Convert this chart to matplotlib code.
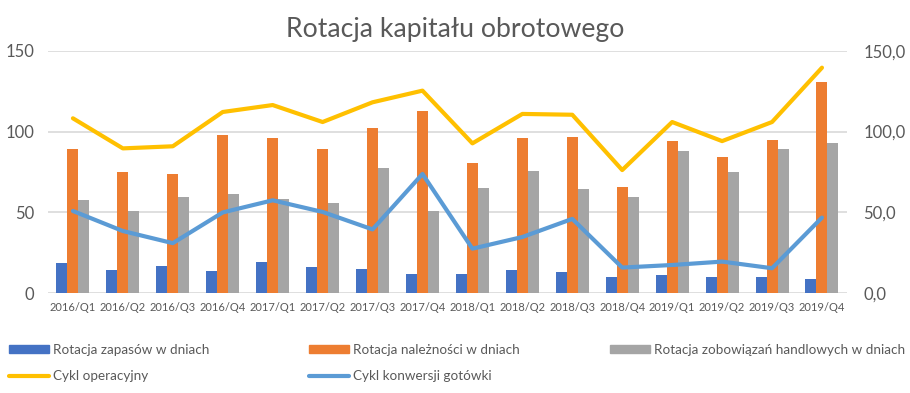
import matplotlib
matplotlib.use("Agg")
import matplotlib.pyplot as plt
import numpy as np
from matplotlib.lines import Line2D
from matplotlib.patches import Patch

plt.rcParams['font.family'] = ['Lato', 'DejaVu Sans']

categories = ["2016/Q1", "2016/Q2", "2016/Q3", "2016/Q4", "2017/Q1", "2017/Q2", "2017/Q3", "2017/Q4",
              "2018/Q1", "2018/Q2", "2018/Q3", "2018/Q4", "2019/Q1", "2019/Q2", "2019/Q3", "2019/Q4"]
zapasy = [18.8, 14.4, 16.9, 13.8, 19.4, 16.3, 15.0, 12.0, 12.0, 14.4, 13.2, 10.1, 11.3, 10.1, 10.1, 8.9]
naleznosci = [89.2, 75.0, 73.8, 97.9, 96.0, 89.2, 102.2, 112.7, 80.6, 96.0, 96.6, 65.7, 94.2, 84.3, 94.8, 130.6]
zobowiazania = [57.7, 50.9, 59.6, 61.4, 58.3, 55.8, 77.5, 50.9, 65.1, 75.6, 64.5, 59.6, 88.0, 75.0, 89.2, 92.9]
cykl_operacyjny = [108.2, 89.6, 90.9, 112.1, 116.4, 105.9, 118.1, 125.3, 92.7, 110.9, 110.4, 76.2, 105.9, 94.1, 105.9, 139.5]
cykl_konwersji = [50.9, 38.5, 31.0, 50.0, 57.5, 50.3, 39.5, 73.8, 27.6, 34.8, 46.0, 15.9, 17.5, 19.6, 15.5, 46.8]
left_ticks = [0, 50, 100, 150]
right_ticks = [0, 50, 100, 150]

c_blue = "#4472C4"
c_orange = "#ED7D31"
c_gray = "#A5A5A5"
c_yellow = "#FFC000"
c_lblue = "#5B9BD5"
txt = "#595959"

fig = plt.figure(figsize=(9.10, 3.93), dpi=100)
ax = fig.add_axes([0.0527, 0.2537, 0.878, 0.6173])
ax2 = ax.twinx()

x = np.arange(len(categories))
w = 0.22
ax.bar(x - w, zapasy, w, color=c_blue, zorder=2)
ax.bar(x, naleznosci, w, color=c_orange, zorder=2)
ax.bar(x + w, zobowiazania, w, color=c_gray, zorder=2)

ax2.plot(x, cykl_operacyjny, color=c_yellow, lw=3.0, solid_capstyle='round', solid_joinstyle='round', zorder=3)
ax2.plot(x, cykl_konwersji, color=c_lblue, lw=3.0, solid_capstyle='round', solid_joinstyle='round', zorder=3)

ax.set_xlim(-0.5, len(categories) - 0.5)
ax.set_ylim(0, 150)
ax2.set_ylim(0, 150)
ax.set_yticks(left_ticks)
ax.set_yticklabels([str(t) for t in left_ticks], fontsize=12, color=txt)
ax2.set_yticks(right_ticks)
ax2.set_yticklabels([f"{t:.1f}".replace('.', ',') for t in right_ticks], fontsize=12, color=txt)
ax.set_xticks(x)
ax.set_xticklabels(categories, fontsize=8, color=txt)
ax.grid(axis='y', color='#D9D9D9', lw=1.2, zorder=0)
ax.set_axisbelow(True)
for a in (ax, ax2):
    for s in a.spines.values():
        s.set_visible(False)
    a.tick_params(length=0)
ax.tick_params(axis='y', pad=10)
ax2.tick_params(axis='y', pad=12)
ax.tick_params(axis='x', pad=6)

fig.text(0.5, 1 - 30 / 393, "Rotacja kapitału obrotowego", ha='center', va='center', fontsize=19.2, color=txt)


def leg(handle, label, xpx, ypx):
    fig.legend([handle], [label], loc='center left', bbox_to_anchor=(xpx / 910, 1 - ypx / 393),
               frameon=False, fontsize=9.75, labelcolor=txt, handlelength=2.95, handleheight=0.52,
               handletextpad=0.3, borderaxespad=0, borderpad=0)


h_z = Patch(color=c_blue)
h_n = Patch(color=c_orange)
h_zb = Patch(color=c_gray)
h_co = Line2D([], [], color=c_yellow, lw=3, solid_capstyle='round')
h_ck = Line2D([], [], color=c_lblue, lw=3, solid_capstyle='round')
leg(h_z, "Rotacja zapasów w dniach", 9, 350)
leg(h_n, "Rotacja należności w dniach", 309, 350)
leg(h_zb, "Rotacja zobowiązań handlowych w dniach", 610, 350)
leg(h_co, "Cykl operacyjny", 9, 376)
leg(h_ck, "Cykl konwersji gotówki", 309, 376)

fig.savefig("out.png", dpi=100)
